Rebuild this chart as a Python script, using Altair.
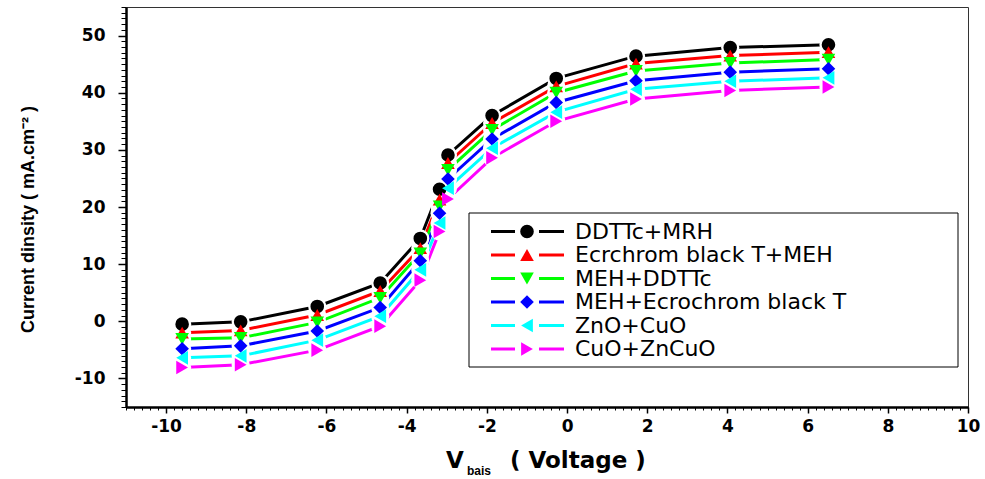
import altair as alt
import pandas as pd

# ---------------- data ----------------
series = ["DDTTc+MRH", "Ecrchrom black T+MEH", "MEH+DDTTc",
          "MEH+Ecrochrom black T", "ZnO+CuO", "CuO+ZnCuO"]
colors = ["#000000", "#ff0000", "#00ff00", "#0000ff", "#00ffff", "#ff00ff"]
shapes = ["circle", "triangle-up", "triangle-down", "diamond",
          "triangle-left", "triangle-right"]

volts = [-9.6, -8.14, -6.23, -4.66, -3.66, -3.18, -2.97, -1.87, -0.27, 1.72, 4.07, 6.52]

j_ddttc_mrh = [-0.5, -0.1, 2.6, 6.7, 14.5, 23.1, 29.1, 36.0, 42.5, 46.4, 47.9, 48.4]
j_ecr_meh = [-2.0, -1.6, 1.1, 5.3, 12.8, 21.3, 27.7, 34.7, 41.1, 45.1, 46.5, 47.1]
j_meh_ddttc = [-3.1, -2.9, -0.2, 4.1, 11.9, 20.1, 26.5, 33.5, 40.0, 43.8, 45.2, 45.8]
j_meh_ecr = [-4.8, -4.3, -1.7, 2.4, 10.6, 18.9, 24.9, 31.9, 38.3, 42.1, 43.6, 44.2]
j_zno_cuo = [-6.4, -6.05, -3.3, 0.9, 9.0, 17.2, 23.3, 30.3, 36.6, 40.6, 42.0, 42.6]
j_cuo_zncuo = [-8.1, -7.6, -5.05, -0.85, 7.2, 15.7, 21.4, 28.6, 35.0, 38.9, 40.4, 41.0]

all_j = [j_ddttc_mrh, j_ecr_meh, j_meh_ddttc, j_meh_ecr, j_zno_cuo, j_cuo_zncuo]

x_major = list(range(-10, 11, 2))
y_major = list(range(-10, 51, 10))
x_minor = [round(-11 + 0.2 * i, 1) for i in range(106)]
y_minor = list(range(-15, 56))

rows = []
for name, js in zip(series, all_j):
    for v, j in zip(volts, js):
        rows.append({"series": name, "V": v, "J": j})
df = pd.DataFrame(rows)
leg_df = pd.DataFrame({"series": series})

# ---------------- layout ----------------
W, H = 842, 400
TICK_FONT = "DejaVu Sans"
LABEL_EXPR = "'' + datum.value"
MSIZE = 185

xscale = alt.Scale(domain=[-11, 10], nice=False, zero=False)
yscale = alt.Scale(domain=[-15, 55], nice=False, zero=False)
cscale = alt.Scale(domain=series, range=colors)
sscale = alt.Scale(domain=series, range=shapes)
leg_y = alt.Scale(type="point", domain=series, range=[224.5, 342], padding=0)

major_x_axis = alt.Axis(values=x_major, orient="bottom", title=None, grid=False,
                        tickSize=6, tickWidth=1.5, tickColor="black",
                        domainColor="black", domainWidth=2.5,
                        labelFont=TICK_FONT, labelFontWeight="bold", labelFontSize=17,
                        labelColor="black", labelPadding=5, labelFlush=False,
                        labelOverlap=False, labelExpr=LABEL_EXPR)
minor_x_axis = alt.Axis(values=x_minor, orient="bottom", title=None, grid=False,
                        tickSize=3, tickWidth=1, tickColor="black",
                        domain=False, labels=False)
major_y_axis = alt.Axis(values=y_major, orient="left", grid=False,
                        title="Current dinsity  ( mA.cm⁻² )",
                        titleFont="Liberation Sans", titleFontWeight="bold",
                        titleFontSize=18, titleColor="black", titleAngle=-90,
                        titleX=-98, titleY=212, titleAlign="center",
                        titleBaseline="middle",
                        tickSize=8, tickWidth=1.5, tickColor="black",
                        domainColor="black", domainWidth=2.5,
                        labelFont=TICK_FONT, labelFontWeight="bold", labelFontSize=17,
                        labelColor="black", labelPadding=13, labelFlush=False,
                        labelOverlap=False, labelExpr=LABEL_EXPR)
minor_y_axis = alt.Axis(values=y_minor, orient="left", title=None, grid=False,
                        tickSize=5, tickWidth=1, tickColor="black",
                        domain=False, labels=False)

base = alt.Chart(df)

lines = base.mark_line(strokeWidth=3).encode(
    x=alt.X("V:Q", scale=xscale, axis=major_x_axis),
    y=alt.Y("J:Q", scale=yscale, axis=major_y_axis),
    color=alt.Color("series:N", scale=cscale, legend=None),
    detail="series:N",
)

halo = base.mark_point(filled=True, color="white", opacity=1, size=330, shape="circle").encode(
    x=alt.X("V:Q", scale=xscale, axis=minor_x_axis),
    y=alt.Y("J:Q", scale=yscale, axis=minor_y_axis),
)

points = base.mark_point(filled=True, opacity=1, size=MSIZE).encode(
    x=alt.X("V:Q", scale=xscale, axis=None),
    y=alt.Y("J:Q", scale=yscale, axis=None),
    color=alt.Color("series:N", scale=cscale, legend=None),
    shape=alt.Shape("series:N", scale=sscale, legend=None),
)

# ---------------- legend (manual) ----------------
box = alt.Chart(alt.Data(values=[{}])).mark_rect(
    fill="white", stroke="black", strokeWidth=1
).encode(x=alt.value(343), x2=alt.value(832), y=alt.value(206), y2=alt.value(360))

leg_base = alt.Chart(leg_df)
leg_y_enc = alt.Y("series:N", scale=leg_y, axis=None)

leg_rule_l = leg_base.mark_rule(strokeWidth=3).encode(
    x=alt.value(365), x2=alt.value(389), y=leg_y_enc,
    color=alt.Color("series:N", scale=cscale, legend=None),
)
leg_rule_r = leg_base.mark_rule(strokeWidth=3).encode(
    x=alt.value(413), x2=alt.value(438), y=leg_y_enc,
    color=alt.Color("series:N", scale=cscale, legend=None),
)
leg_pts = leg_base.mark_point(filled=True, opacity=1, size=MSIZE).encode(
    x=alt.value(401), y=leg_y_enc,
    color=alt.Color("series:N", scale=cscale, legend=None),
    shape=alt.Shape("series:N", scale=sscale, legend=None),
)
leg_txt = leg_base.mark_text(align="left", baseline="middle", font="DejaVu Sans",
                             fontSize=22, color="black").encode(
    x=alt.value(449), y=leg_y_enc, text="series:N",
)

# ---------------- x-axis title with subscript ----------------
one = alt.Data(values=[{}])
t_v = alt.Chart(one).mark_text(align="center", baseline="alphabetic", font="DejaVu Sans",
                               fontWeight="bold", fontSize=23, color="black").encode(
    x=alt.value(329), y=alt.value(461), text=alt.value("V"))
t_sub = alt.Chart(one).mark_text(align="left", baseline="alphabetic", font="Liberation Sans",
                                 fontWeight="bold", fontSize=12, color="black").encode(
    x=alt.value(341), y=alt.value(468), text=alt.value("bais"))
t_rest = alt.Chart(one).mark_text(align="left", baseline="alphabetic", font="DejaVu Sans",
                                  fontWeight="bold", fontSize=23, color="black").encode(
    x=alt.value(384), y=alt.value(461), text=alt.value("( Voltage )"))

chart = alt.layer(
    lines, halo, points, box, leg_rule_l, leg_rule_r, leg_pts, leg_txt, t_v, t_sub, t_rest
).resolve_scale(
    y="independent"
).resolve_axis(
    x="independent", y="independent"
).properties(
    width=W, height=H,
    padding={"left": 126, "top": 7, "right": 17, "bottom": 72},
    autosize=alt.AutoSizeParams(type="none"),
    background="white",
).configure_view(stroke="#333333", strokeWidth=1)

chart.save("out.html", embed_options={"renderer": "svg", "actions": False})
